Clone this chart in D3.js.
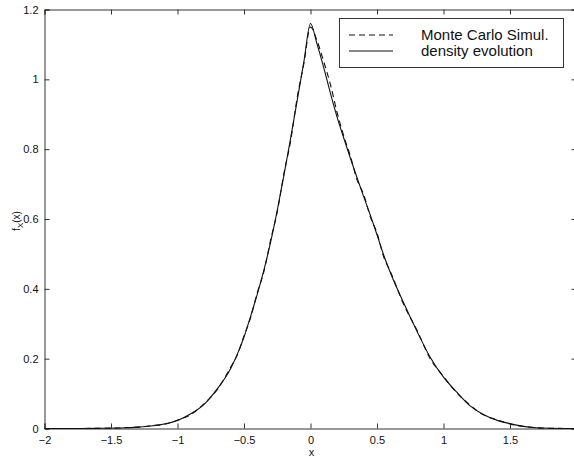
<!DOCTYPE html>
<html><head><meta charset="utf-8">
<script src="https://cdn.jsdelivr.net/npm/d3@7"></script>
<style>
html,body{margin:0;padding:0;background:#fff;}
svg{display:block;font-family:"Liberation Sans",Arial,Helvetica,sans-serif;}
</style></head>
<body>
<svg id="chart" width="574" height="459"></svg>
<script>
// ---- data ----
const densityX = [-2,-1.8,-1.6,-1.4,-1.3,-1.2,-1.1,-1.0,-0.9,-0.8,-0.7,-0.6,-0.55,-0.5,-0.45,-0.4,-0.35,-0.3,-0.25,-0.2,-0.15,-0.1,-0.05,0,0.05,0.1,0.15,0.2,0.25,0.3,0.35,0.4,0.45,0.5,0.55,0.6,0.7,0.8,0.9,1.0,1.1,1.2,1.3,1.4,1.5,1.6,1.7,1.8,2.0];
const densityY = [0,0,0.0005,0.002,0.004,0.007,0.013,0.023,0.042,0.069,0.114,0.172,0.213,0.262,0.322,0.385,0.454,0.534,0.625,0.725,0.83,0.94,1.05,1.16,1.10,1.033,0.96,0.892,0.832,0.774,0.718,0.664,0.611,0.555,0.497,0.447,0.360,0.279,0.204,0.147,0.104,0.065,0.040,0.024,0.014,0.006,0.002,0.0005,0];
const mcX = [-2,-1.8,-1.6,-1.4,-1.3,-1.2,-1.1,-1.0,-0.9,-0.8,-0.7,-0.6,-0.55,-0.5,-0.45,-0.4,-0.35,-0.3,-0.25,-0.2,-0.15,-0.1,-0.05,0,0.05,0.1,0.15,0.2,0.25,0.3,0.35,0.4,0.45,0.5,0.55,0.6,0.7,0.8,0.9,1.0,1.1,1.2,1.3,1.4,1.5,1.6,1.7,1.8,2.0];
const mcY = [0,0,0.0005,0.002,0.004,0.008,0.012,0.024,0.040,0.071,0.112,0.176,0.211,0.265,0.318,0.389,0.450,0.540,0.620,0.730,0.822,0.948,1.045,1.15,1.11,1.05,0.985,0.905,0.838,0.780,0.712,0.670,0.606,0.560,0.492,0.450,0.356,0.282,0.200,0.149,0.102,0.067,0.039,0.025,0.013,0.006,0.002,0.0005,0];
const xTicks = [-2,-1.5,-1,-0.5,0,0.5,1,1.5,2];
const xTickLabels = ["\u22122","\u22121.5","\u22121","\u22120.5","0","0.5","1","1.5",""];
const yTicks = [0,0.2,0.4,0.6,0.8,1,1.2];
const yTickLabels = ["0","0.2","0.4","0.6","0.8","1","1.2"];
const legendLabels = ["Monte Carlo Simul.","density evolution"];

// ---- layout ----
const svg = d3.select("#chart");
const xs = d3.scaleLinear().domain([-2,2]).range([44.5,576.5]);
const ys = d3.scaleLinear().domain([0,1.2]).range([428.5,9.5]);
const axisColor = "#333";

const g = svg.append("g");
const axBottom = g.append("g").attr("transform",`translate(0,${ys(0)})`)
  .call(d3.axisBottom(xs).tickValues(xTicks).tickSize(-5).tickPadding(8).tickFormat((d,i)=>xTickLabels[i]));
const axTop = g.append("g").attr("transform",`translate(0,${ys(1.2)})`)
  .call(d3.axisTop(xs).tickValues(xTicks).tickSize(-5).tickFormat(""));
const axLeft = g.append("g").attr("transform",`translate(${xs(-2)},0)`)
  .call(d3.axisLeft(ys).tickValues(yTicks).tickSize(-5).tickPadding(6).tickFormat((d,i)=>yTickLabels[i]));
const axRight = g.append("g").attr("transform",`translate(${xs(2)},0)`)
  .call(d3.axisRight(ys).tickValues(yTicks).tickSize(-5).tickFormat(""));
[axBottom,axTop,axLeft,axRight].forEach(a=>{
  a.select(".domain").attr("stroke",axisColor).attr("stroke-width",1);
  a.selectAll(".tick line").attr("stroke",axisColor);
  a.selectAll("text").attr("fill","#111").style("font-size","11px").style("font-family","'Liberation Sans',Arial,sans-serif");
});

// curves
const line = d3.line().x(d=>xs(d[0])).y(d=>ys(d[1])).curve(d3.curveMonotoneX);
g.append("path").datum(d3.zip(densityX,densityY)).attr("d",line)
  .attr("fill","none").attr("stroke","#111").attr("stroke-width",1.1);
g.append("path").datum(d3.zip(mcX,mcY)).attr("d",line)
  .attr("fill","none").attr("stroke","#111").attr("stroke-width",1.1).attr("stroke-dasharray","6,4");

// axis labels
svg.append("text").attr("x",xs(0)+1).attr("y",456).attr("text-anchor","middle")
  .style("font-size","11px").attr("fill","#111").text("x");
const yl = svg.append("text").attr("transform","translate(20,221) rotate(-90)")
  .attr("text-anchor","middle").style("font-size","10px").attr("fill","#111");
yl.append("tspan").text("f");
yl.append("tspan").attr("dy",3).style("font-size","8px").text("X");
yl.append("tspan").attr("dy",-3).text("(x)");

// legend
const lg = svg.append("g");
lg.append("rect").attr("x",339.5).attr("y",18.5).attr("width",224).attr("height",49)
  .attr("fill","#fff").attr("stroke",axisColor).attr("stroke-width",1);
const legY = [35,51];
lg.append("line").attr("x1",349).attr("x2",393).attr("y1",legY[0]).attr("y2",legY[0])
  .attr("stroke","#111").attr("stroke-dasharray","6,4").attr("stroke-width",1.1);
lg.append("line").attr("x1",349).attr("x2",393).attr("y1",legY[1]).attr("y2",legY[1])
  .attr("stroke","#111").attr("stroke-width",1.1);
legendLabels.forEach((t,i)=>{
  lg.append("text").attr("x",421).attr("y",legY[i]+5).style("font-size","15px")
    .attr("fill","#111").text(t);
});
</script>
</body></html>
